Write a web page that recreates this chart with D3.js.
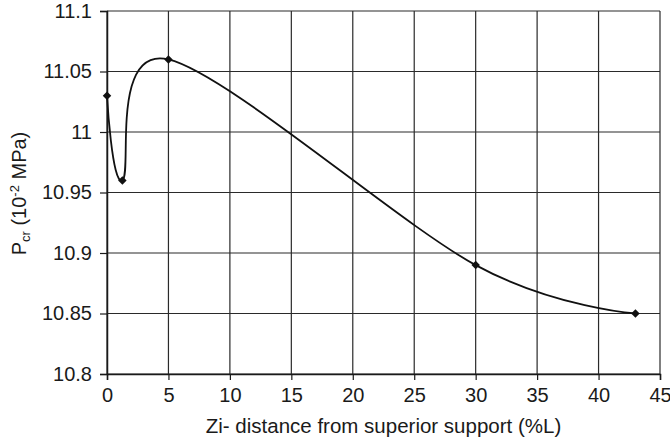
<!DOCTYPE html>
<html>
<head>
<meta charset="utf-8">
<script src="https://d3js.org/d3.v7.min.js"></script>
<style>
  body { margin: 0; background: #fff; }
  text { font-family: "Liberation Sans", Arial, sans-serif; fill: #1a1a1a; }
</style>
</head>
<body>
<div id="chart"></div>
<script>
// data
let zi = [0, 1.25, 5, 30, 43];
let pcr = [11.03, 10.96, 11.06, 10.89, 10.85];
let xTicks = [0, 5, 10, 15, 20, 25, 30, 35, 40, 45];
let yTicks = [10.8, 10.85, 10.9, 10.95, 11, 11.05, 11.1];

let width = 670, height = 442;
let margin = {top: 11, right: 10, bottom: 68, left: 107};

let svg = d3.select("#chart").append("svg")
    .attr("width", width)
    .attr("height", height);

let x = d3.scaleLinear().domain([0, 45]).range([margin.left, width - margin.right]);
let y = d3.scaleLinear().domain([10.8, 11.1]).range([height - margin.bottom, margin.top]);

// grid
svg.append("g").selectAll("line")
    .data(xTicks)
    .enter().append("line")
    .attr("x1", d => x(d)).attr("x2", d => x(d))
    .attr("y1", y(10.8)).attr("y2", y(11.1))
    .attr("stroke", "#2a2a2a").attr("stroke-width", 1.2);

svg.append("g").selectAll("line")
    .data(yTicks)
    .enter().append("line")
    .attr("x1", x(0)).attr("x2", x(45))
    .attr("y1", d => y(d)).attr("y2", d => y(d))
    .attr("stroke", "#2a2a2a").attr("stroke-width", 1.2);

// axes
let xAxis = svg.append("g")
    .attr("transform", `translate(0,${y(10.8)})`)
    .call(d3.axisBottom(x).tickValues(xTicks).tickSize(6).tickPadding(8).tickFormat(d3.format("d")));
let yAxis = svg.append("g")
    .attr("transform", `translate(${x(0)},0)`)
    .call(d3.axisLeft(y).tickValues(yTicks).tickSize(7).tickPadding(8).tickFormat(d => String(+d.toFixed(2))));

[xAxis, yAxis].forEach(a => {
    a.select(".domain").attr("stroke", "#1a1a1a").attr("stroke-width", 1.5);
    a.selectAll(".tick line").attr("stroke", "#1a1a1a").attr("stroke-width", 1.2);
    a.selectAll("text").style("font-size", "20px").attr("fill", "#1a1a1a");
});

// the smoothed line
let pts = zi.map((d, i) => [d, pcr[i]]);
let line = d3.line()
    .x(d => x(d[0]))
    .y(d => y(d[1]))
    .curve(d3.curveCardinal.tension(0));

svg.append("path")
    .datum(pts)
    .attr("d", line)
    .attr("fill", "none")
    .attr("stroke", "#111")
    .attr("stroke-width", 1.8);

svg.append("g").selectAll("path")
    .data(pts)
    .enter().append("path")
    .attr("d", d3.symbol().type(d3.symbolDiamond2).size(46))
    .attr("transform", d => `translate(${x(d[0])},${y(d[1])})`)
    .attr("fill", "#111");

// titles
svg.append("text")
    .attr("x", (x(0) + x(45)) / 2)
    .attr("y", 433)
    .attr("text-anchor", "middle")
    .style("font-size", "20.5px")
    .text("Zi- distance from superior support (%L)");

let yl = svg.append("text")
    .attr("transform", `translate(26,${(y(10.8) + y(11.1)) / 2 + 1}) rotate(-90)`)
    .attr("text-anchor", "middle")
    .style("font-size", "20px");
yl.append("tspan").text("P");
yl.append("tspan").attr("dy", 4).style("font-size", "13px").text("cr");
yl.append("tspan").attr("dy", -4).text(" (10");
yl.append("tspan").attr("dy", -7).style("font-size", "13px").text("-2");
yl.append("tspan").attr("dy", 7).text(" MPa)");
</script>
</body>
</html>
